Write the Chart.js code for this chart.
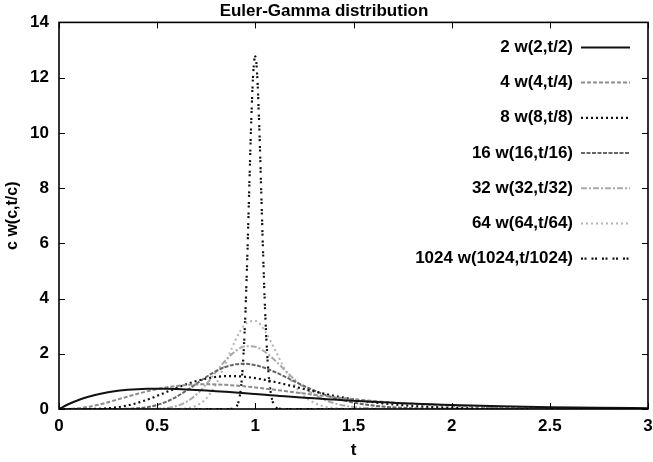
<!DOCTYPE html>
<html>
<head>
<meta charset="utf-8">
<script src="https://cdn.jsdelivr.net/npm/chart.js@4.4.1/dist/chart.umd.min.js"></script>
<style>
  body { margin: 0; background: #fff; }
</style>
</head>
<body>
<canvas id="gammaChart" width="653" height="462"></canvas>
<script>
// t grid shared by the broad curves
const tValues = [0, 0.05, 0.1, 0.15, 0.2, 0.25, 0.3, 0.35, 0.4, 0.45, 0.5, 0.55, 0.6, 0.65, 0.7, 0.75,
  0.8, 0.85, 0.9, 0.95, 1, 1.05, 1.1, 1.15, 1.2, 1.25, 1.3, 1.35, 1.4, 1.45, 1.5, 1.55, 1.6, 1.65,
  1.7, 1.75, 1.8, 1.85, 1.9, 1.95, 2, 2.25, 2.5, 2.75, 3];

const w2 = [0, 0.181, 0.327, 0.444, 0.536, 0.607, 0.659, 0.695, 0.719, 0.732, 0.736, 0.732, 0.723, 0.709,
  0.690, 0.669, 0.646, 0.621, 0.595, 0.568, 0.541, 0.514, 0.488, 0.461, 0.435, 0.410, 0.386, 0.363,
  0.341, 0.319, 0.299, 0.279, 0.261, 0.243, 0.227, 0.211, 0.197, 0.183, 0.170, 0.158, 0.147, 0.100,
  0.067, 0.045, 0.030];
const w4 = [0, 0.004, 0.029, 0.079, 0.153, 0.245, 0.347, 0.451, 0.551, 0.643, 0.722, 0.787, 0.836, 0.871,
  0.890, 0.896, 0.890, 0.874, 0.850, 0.818, 0.782, 0.741, 0.697, 0.652, 0.607, 0.562, 0.517, 0.474,
  0.433, 0.394, 0.357, 0.322, 0.290, 0.261, 0.234, 0.209, 0.186, 0.165, 0.146, 0.130, 0.115, 0.060,
  0.030, 0.015, 0.007];
const w8 = [0, 0, 0.0002, 0.002, 0.009, 0.028, 0.066, 0.130, 0.222, 0.340, 0.477, 0.622, 0.767, 0.900,
  1.013, 1.101, 1.160, 1.189, 1.188, 1.163, 1.117, 1.053, 0.978, 0.895, 0.808, 0.720, 0.636, 0.555,
  0.480, 0.411, 0.350, 0.295, 0.247, 0.205, 0.169, 0.139, 0.114, 0.092, 0.075, 0.060, 0.048, 0.015,
  0.004, 0.001, 0];
const w16 = [0, 0, 0, 0, 0, 0.0002, 0.002, 0.008, 0.025, 0.066, 0.145, 0.271, 0.449, 0.670, 0.915, 1.158,
  1.371, 1.529, 1.618, 1.637, 1.587, 1.483, 1.339, 1.172, 0.997, 0.826, 0.669, 0.529, 0.410, 0.312,
  0.233, 0.172, 0.124, 0.088, 0.062, 0.043, 0.030, 0.020, 0.013, 0.009, 0.006, 0.001, 0, 0, 0];
const w32 = [0, 0, 0, 0, 0, 0, 0, 0, 0.0002, 0.002, 0.009, 0.036, 0.108, 0.261, 0.524, 0.898, 1.343,
  1.775, 2.104, 2.273, 2.251, 2.063, 1.760, 1.412, 1.065, 0.761, 0.520, 0.338, 0.211, 0.126, 0.073,
  0.041, 0.022, 0.012, 0.006, 0.003, 0.001, 0, 0, 0, 0, 0, 0, 0, 0];
const w64 = [0, 0, 0, 0, 0, 0, 0, 0, 0, 0, 0, 0.0005, 0.004, 0.028, 0.121, 0.381, 0.908, 1.685, 2.507,
  3.087, 3.187, 2.811, 2.145, 1.443, 0.856, 0.456, 0.221, 0.097, 0.039, 0.015, 0.005, 0, 0, 0, 0,
  0, 0, 0, 0, 0, 0, 0, 0, 0, 0];

// the c = 1024 curve needs a finer grid round t = 1
const tNarrow = [0, 0.85, 0.88, 0.9, 0.91, 0.92, 0.93, 0.94, 0.95, 0.96, 0.97, 0.98, 0.99, 1, 1.01, 1.02,
  1.03, 1.04, 1.05, 1.06, 1.07, 1.08, 1.09, 1.1, 1.12, 1.15, 3];
const w1024 = [0, 0, 0.005, 0.059, 0.170, 0.435, 0.987, 1.99, 3.575, 5.73, 8.22, 10.59, 12.25, 12.77,
  12.01, 10.23, 7.89, 5.53, 3.52, 2.046, 1.085, 0.526, 0.234, 0.095, 0.012, 0, 0];

const seriesLabels = ['2 w(2,t/2)', '4 w(4,t/4)', '8 w(8,t/8)', '16 w(16,t/16)',
  '32 w(32,t/32)', '64 w(64,t/64)', '1024 w(1024,t/1024)'];

const xTicks = { min: 0, max: 3, step: 0.5 };
const yTicks = { min: 0, max: 14, step: 2 };

const FONT = '"Liberation Sans", Arial, Helvetica, sans-serif';

function pts(xs, ys) {
  return xs.map((x, i) => ({ x: x, y: ys[i] }));
}

function series(label, xs, ys, color, dash, width) {
  return {
    label: label,
    data: pts(xs, ys),
    borderColor: color,
    borderDash: dash,
    borderWidth: width,
    pointRadius: 0,
    fill: false,
    cubicInterpolationMode: 'monotone'
  };
}

// frame, inward ticks on every side and the gnuplot-style key
const gnuplotFrame = {
  id: 'gnuplotFrame',
  afterDatasetsDraw(chart) {
    const { ctx, chartArea: a, scales } = chart;
    const x = scales.x, y = scales.y;
    ctx.save();
    ctx.setLineDash([]);
    ctx.strokeStyle = '#000';
    ctx.lineWidth = 1;
    const tl = 6;
    ctx.beginPath();
    x.ticks.forEach(t => {
      const px = Math.round(x.getPixelForValue(t.value)) + 0.5;
      ctx.moveTo(px, a.bottom); ctx.lineTo(px, a.bottom - tl);
      ctx.moveTo(px, a.top); ctx.lineTo(px, a.top + tl);
    });
    y.ticks.forEach(t => {
      const py = Math.round(y.getPixelForValue(t.value)) + 0.5;
      ctx.moveTo(a.left, py); ctx.lineTo(a.left + tl, py);
      ctx.moveTo(a.right, py); ctx.lineTo(a.right - tl, py);
    });
    ctx.stroke();
    ctx.lineWidth = 1.6;
    ctx.strokeRect(a.left, a.top, a.right - a.left, a.bottom - a.top);

    // key
    ctx.font = 'bold 17px ' + FONT;
    ctx.textAlign = 'right';
    ctx.textBaseline = 'middle';
    chart.data.datasets.forEach((ds, i) => {
      const ky = a.top + 25 + i * 35.2;
      ctx.fillStyle = '#000';
      ctx.fillText(ds.label, a.right - 75, ky);
      ctx.strokeStyle = ds.borderColor;
      ctx.lineWidth = ds.borderWidth;
      ctx.setLineDash(ds.borderDash || []);
      ctx.beginPath();
      ctx.moveTo(a.right - 67, ky);
      ctx.lineTo(a.right - 18, ky);
      ctx.stroke();
    });
    ctx.restore();
  }
};

Chart.defaults.color = '#000';
Chart.defaults.font.family = FONT;

new Chart(document.getElementById('gammaChart'), {
  type: 'line',
  data: {
    datasets: [
      series(seriesLabels[0], tValues, w2, '#111', [], 2),
      series(seriesLabels[1], tValues, w4, '#8c8c8c', [4, 2], 2),
      series(seriesLabels[2], tValues, w8, '#111', [2, 3], 2.2),
      series(seriesLabels[3], tValues, w16, '#666', [4, 1.5], 2),
      series(seriesLabels[4], tValues, w32, '#aaa', [6, 2, 2, 2], 2),
      series(seriesLabels[5], tValues, w64, '#b4b4b4', [2, 3], 2),
      series(seriesLabels[6], tNarrow, w1024, '#111', [2, 1.5, 2, 5], 2.2)
    ]
  },
  options: {
    responsive: false,
    animation: false,
    layout: { padding: { left: 0, right: 5, top: 0, bottom: 0 } },
    plugins: {
      legend: { display: false },
      tooltip: { enabled: false },
      title: {
        display: true,
        text: 'Euler-Gamma distribution',
        font: { size: 17, weight: 'bold' },
        padding: { top: 1, bottom: 1 }
      }
    },
    scales: {
      x: {
        type: 'linear',
        min: xTicks.min,
        max: xTicks.max,
        grid: { display: false, drawTicks: false },
        border: { display: false },
        ticks: {
          stepSize: xTicks.step,
          padding: 7,
          font: { size: 17, weight: 'bold' },
          callback: v => String(v)
        },
        title: { display: true, text: 't', font: { size: 17, weight: 'bold' }, padding: { top: 0, bottom: 1 } },
        afterFit(scale) {
          scale.height = 53;
          scale.paddingLeft = 0;
          scale.paddingRight = 0;
        }
      },
      y: {
        min: yTicks.min,
        max: yTicks.max,
        grid: { display: false, drawTicks: false },
        border: { display: false },
        ticks: { stepSize: yTicks.step, padding: 10, font: { size: 17, weight: 'bold' } },
        title: { display: true, text: 'c w(c,t/c)', font: { size: 16, weight: 'bold' }, padding: { top: 3, bottom: 0 } },
        afterFit(scale) {
          scale.width = 59;
        }
      }
    }
  },
  plugins: [gnuplotFrame]
});
</script>
</body>
</html>
